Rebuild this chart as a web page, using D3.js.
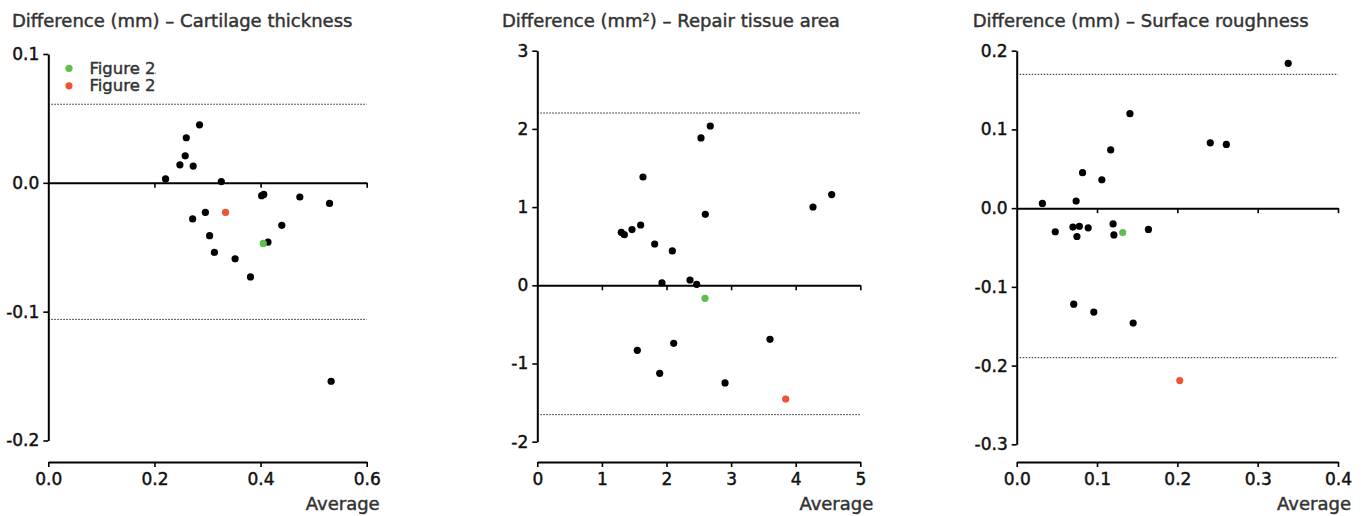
<!DOCTYPE html>
<html>
<head>
<meta charset="utf-8">
<title>Bland-Altman</title>
<script src="https://cdn.jsdelivr.net/npm/d3@7"></script>
<style>
  body { margin: 0; background: #fff; }
  svg text { font-family: "DejaVu Sans", "Liberation Sans", sans-serif; stroke-width: 0.45px; }
</style>
</head>
<body>
<div id="chart"></div>
<script>
// --- data ---
// cartilage thickness (mm)
const thickAvg  = [0.221, 0.248, 0.258, 0.273, 0.260, 0.285, 0.326, 0.272, 0.296, 0.304,
                   0.313, 0.352, 0.381, 0.402, 0.406, 0.414, 0.440, 0.474, 0.530, 0.533];
const thickDiff = [0.003, 0.014, 0.021, 0.013, 0.035, 0.045, 0.001, -0.028, -0.023, -0.041,
                   -0.054, -0.059, -0.073, -0.010, -0.009, -0.046, -0.033, -0.011, -0.016, -0.154];
const thickFig2A = [0.405, -0.047];
const thickFig2B = [0.334, -0.023];
const thickLimits = [0.061, -0.106];

// repair tissue area (mm2)
const areaAvg  = [2.534, 2.678, 1.636, 4.268, 4.557, 2.601, 1.300, 1.347, 1.466, 1.600,
                  1.817, 2.090, 1.930, 2.364, 2.467, 1.548, 2.111, 1.895, 2.906, 3.602];
const areaDiff = [1.884, 2.037, 1.385, 1.001, 1.160, 0.908, 0.678, 0.648, 0.712, 0.771,
                  0.528, 0.439, 0.030, 0.068, 0.013, -0.831, -0.742, -1.125, -1.249, -0.691];
const areaFig2A = [2.596, -0.166];
const areaFig2B = [3.845, -1.454];
const areaLimits = [2.203, -1.654];

// surface roughness (mm)
const roughAvg  = [0.032, 0.074, 0.082, 0.106, 0.117, 0.141, 0.241, 0.261, 0.338, 0.048,
                   0.070, 0.078, 0.075, 0.089, 0.120, 0.121, 0.164, 0.071, 0.096, 0.145];
const roughDiff = [0.006, 0.009, 0.045, 0.036, 0.074, 0.120, 0.083, 0.081, 0.184, -0.030,
                   -0.024, -0.023, -0.036, -0.025, -0.020, -0.034, -0.027, -0.122, -0.132, -0.146];
const roughFig2A = [0.132, -0.031];
const roughFig2B = [0.203, -0.219];
const roughLimits = [0.170, -0.190];

const legendLabels = ["Figure 2A", "Figure 2B"];
const green = "#5fbf4c", red = "#ef5235";

const width = 1365, height = 516;
const svg = d3.select("#chart").append("svg")
  .attr("width", width)
  .attr("height", height);

const axisY = 462;
const rad = 3.6;

const panels = [
  { title: "Difference (mm) – Cartilage thickness", tx: 12,
    avg: thickAvg, diff: thickDiff, a: thickFig2A, b: thickFig2B, lim: thickLimits,
    xd: [0, 0.6], xr: [48.3, 366.7], xt: [0, 0.2, 0.4, 0.6], xf: d => d.toFixed(1),
    yd: [-0.2, 0.1], yr: [440.5, 54], yt: [-0.2, -0.1, 0, 0.1], yf: d => d.toFixed(1), legend: true },
  { title: "Difference (mm²) – Repair tissue area", tx: 502,
    avg: areaAvg, diff: areaDiff, a: areaFig2A, b: areaFig2B, lim: areaLimits,
    xd: [0, 5], xr: [537.3, 860.3], xt: [0, 1, 2, 3, 4, 5], xf: d => d.toFixed(0),
    yd: [-2, 3], yr: [441.7, 50.7], yt: [-2, -1, 0, 1, 2, 3], yf: d => d.toFixed(0) },
  { title: "Difference (mm) – Surface roughness", tx: 972.7,
    avg: roughAvg, diff: roughDiff, a: roughFig2A, b: roughFig2B, lim: roughLimits,
    xd: [0, 0.4], xr: [1016.7, 1338], xt: [0, 0.1, 0.2, 0.3, 0.4], xf: d => d.toFixed(1),
    yd: [-0.3, 0.2], yr: [444.3, 50.7], yt: [-0.3, -0.2, -0.1, 0, 0.1, 0.2], yf: d => d.toFixed(1) }
];

panels.forEach(function(p) {
  const x = d3.scaleLinear().domain(p.xd).range(p.xr);
  const y = d3.scaleLinear().domain(p.yd).range(p.yr);
  const g = svg.append("g");

  // title
  g.append("text")
    .attr("x", p.tx)
    .attr("y", 27)
    .style("font-size", "18px")
    .style("fill", "#333").style("stroke", "#333")
    .text(p.title);

  // limits of agreement (dotted)
  g.selectAll(".lim")
    .data(p.lim)
    .enter().append("line")
    .attr("x1", p.xr[0]).attr("x2", p.xr[1])
    .attr("y1", d => y(d)).attr("y2", d => y(d))
    .attr("stroke", "#222")
    .attr("stroke-width", 1)
    .attr("stroke-dasharray", "1.5,1.5");

  // zero line with ticks, no labels
  const zero = g.append("g")
    .attr("transform", "translate(0," + y(0) + ")")
    .call(d3.axisBottom(x).tickValues(p.xt.slice(1)).tickSize(5).tickSizeOuter(0).tickFormat(""));

  // y axis
  const ya = g.append("g")
    .attr("transform", "translate(" + p.xr[0] + ",0)")
    .call(d3.axisLeft(y).tickValues(p.yt).tickSize(5).tickSizeOuter(0).tickPadding(4).tickFormat(p.yf));

  // x axis at bottom
  const xa = g.append("g")
    .attr("transform", "translate(0," + axisY + ")")
    .call(d3.axisBottom(x).tickValues(p.xt).tickSize(5).tickSizeOuter(0).tickPadding(6).tickFormat(p.xf));

  [zero, ya, xa].forEach(function(a) {
    a.select(".domain").attr("stroke", "#000").attr("stroke-width", 2);
    a.selectAll(".tick line").attr("stroke", "#000").attr("stroke-width", 1.6);
    a.selectAll(".tick text")
      .style("font-size", "17px")
      .style("font-family", "DejaVu Sans, sans-serif")
      .attr("fill", "#111").attr("stroke", "#111");
  });

  g.append("text")
    .attr("x", p.xr[1] + 13)
    .attr("y", 510)
    .attr("text-anchor", "end")
    .style("font-size", "18px")
    .style("fill", "#333").style("stroke", "#333")
    .text("Average");

  // points
  g.selectAll(".pt")
    .data(p.avg)
    .enter().append("circle")
    .attr("cx", d => x(d))
    .attr("cy", (d, i) => y(p.diff[i]))
    .attr("r", rad)
    .attr("fill", "#000");

  g.append("circle").attr("cx", x(p.a[0])).attr("cy", y(p.a[1])).attr("r", rad).attr("fill", green);
  g.append("circle").attr("cx", x(p.b[0])).attr("cy", y(p.b[1])).attr("r", rad).attr("fill", red);

  if (p.legend) {
    svg.append("clipPath").attr("id", "legclip")
      .append("rect").attr("x", 60).attr("y", 55).attr("width", 96).attr("height", 45);
    const leg = svg.append("g").attr("clip-path", "url(#legclip)");
    leg.selectAll("circle")
      .data(legendLabels)
      .enter().append("circle")
      .attr("cx", 69)
      .attr("cy", (d, i) => 68.3 + i * 17.5)
      .attr("r", rad)
      .attr("fill", (d, i) => i ? red : green);
    leg.selectAll("text")
      .data(legendLabels)
      .enter().append("text")
      .attr("x", 89.5)
      .attr("y", (d, i) => 74 + i * 17)
      .style("font-size", "16.5px")
      .style("fill", "#333").style("stroke", "#333")
      .text(d => d);
  }
});
</script>
</body>
</html>
